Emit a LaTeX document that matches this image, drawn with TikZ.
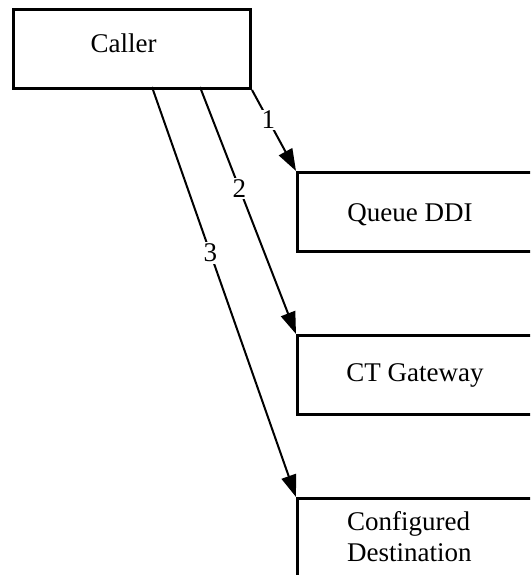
\documentclass[tikz,border=0pt]{standalone}
\usepackage{fontspec}
\setmainfont{Liberation Serif}
\usetikzlibrary{arrows.meta}
\begin{document}
\begin{tikzpicture}[x=1pt,y=-1pt,
  box/.style={draw=black, line width=3pt, fill=white, inner sep=0pt, anchor=north west},
  txt/.style={font=\fontsize{27}{31}\selectfont, inner sep=0pt, anchor=base},
  flow/.style={line width=2pt, -{Triangle[length=22pt,width=15pt]}},
  num/.style={font=\fontsize{27}{31}\selectfont, fill=white, inner sep=1.5pt}]
\path[use as bounding box, clip] (0,0) rectangle (530,575);
% boxes
\node[box, minimum width=237pt, minimum height=79pt] (caller) at (12,8) {};
\node[box, minimum width=260pt, minimum height=79pt] (queue) at (296,171) {};
\node[box, minimum width=260pt, minimum height=79pt] (ctgw) at (296,334) {};
\node[box, minimum width=260pt, minimum height=120pt] (dest) at (296,497) {};
% texts
\node[txt] (callerlbl) at (123.5,53) {Caller};
\node[txt] (queuelbl) at (410,221) {Queue DDI};
\node[txt] (ctgwlbl) at (415,381) {CT Gateway};
\node[txt, anchor=base west] (destlbl1) at (347,530) {Configured};
\node[txt, anchor=base west] (destlbl2) at (347,561) {Destination};
% start points on caller bottom
\coordinate (s2) at (200,87);
\coordinate (s3) at (152,87);
% connectors
\draw[flow] (caller.south east) -- node[num, pos=0.37] (n1) {1} (queue.north west);
\draw[flow] (s2) -- node[num, pos=0.41] (n2) {2} (ctgw.north west);
\draw[flow] (s3) -- node[num, pos=0.405] (n3) {3} (dest.north west);
\end{tikzpicture}
\end{document}
